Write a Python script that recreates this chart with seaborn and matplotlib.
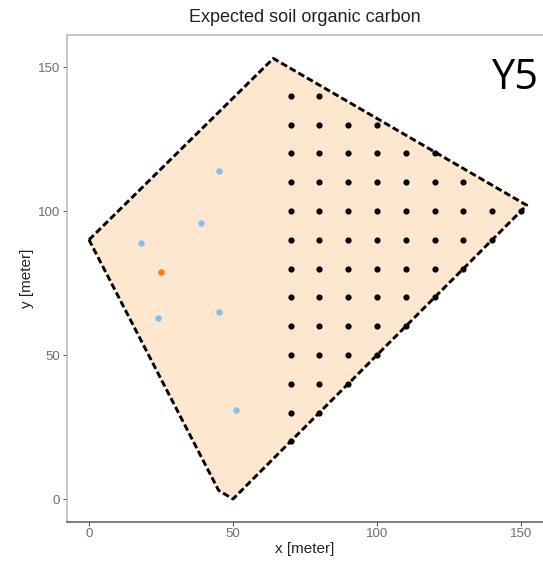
import numpy as np
import pandas as pd
import seaborn as sns
import matplotlib.pyplot as plt

# study area boundary (meter)
border_x = [0, 64, 152, 50, 45, 0]
border_y = [90, 153, 102, 0, 3, 90]

# prediction grid points
grid_x = [70]*13 + [80]*12 + [90]*10 + [100]*9 + [110]*7 + [120]*6 + [130]*4 + [140]*2 + [150]
grid_y = ([20, 30, 40, 50, 60, 70, 80, 90, 100, 110, 120, 130, 140] +
          [30, 40, 50, 60, 70, 80, 90, 100, 110, 120, 130, 140] +
          [40, 50, 60, 70, 80, 90, 100, 110, 120, 130] +
          [50, 60, 70, 80, 90, 100, 110, 120, 130] +
          [60, 70, 80, 90, 100, 110, 120] +
          [70, 80, 90, 100, 110, 120] +
          [80, 90, 100, 110] +
          [90, 100] +
          [100])

# sampled locations
samp_x = [45, 39, 18, 24, 45, 51]
samp_y = [114, 96, 89, 63, 65, 31]

# target location
targ_x = [25]
targ_y = [79]

grid = pd.DataFrame({'x': grid_x, 'y': grid_y})
samp = pd.DataFrame({'x': samp_x, 'y': samp_y})
targ = pd.DataFrame({'x': targ_x, 'y': targ_y})

sns.set_theme(style='white')
plt.rcParams['font.family'] = ['Liberation Sans', 'DejaVu Sans']

fig = plt.figure(figsize=(5.43, 5.68), dpi=100)
ax = fig.add_axes([67/543, (568-521.5)/568, 1 - 67/543, (521.5-34.5)/568])

ax.fill(border_x, border_y, color='#FDE7CF', zorder=1)
ax.plot(border_x, border_y, color='black', lw=2.1, dashes=(2.3, 1.1), zorder=3)

sns.scatterplot(data=grid, x='x', y='y', color='black', s=20, linewidth=0, ax=ax, zorder=4)
sns.scatterplot(data=samp, x='x', y='y', color='#87BFEA', s=22, linewidth=0, ax=ax, zorder=4)
sns.scatterplot(data=targ, x='x', y='y', color='#F97B12', s=22, linewidth=0, ax=ax, zorder=4)

ax.set_xlim(-7.64, 157.64)
ax.set_ylim(-7.81, 161.3)
ax.set_xticks([0, 50, 100, 150])
ax.set_yticks([0, 50, 100, 150])

ax.set_xlabel('x [meter]', fontsize=11, color='#222222', labelpad=1)
ax.set_ylabel('y [meter]', fontsize=11, color='#222222', labelpad=3)
ax.set_title('Expected soil organic carbon', fontsize=13, color='#222222', pad=9)

ax.tick_params(axis='both', which='both', length=3, width=0.8, color='#555555',
               labelsize=9.5, labelcolor='#6E6E6E', pad=2, bottom=True, left=True)

for side in ['top', 'left']:
    ax.spines[side].set_color('#BBBBBB')
    ax.spines[side].set_linewidth(1.2)
ax.spines['right'].set_visible(False)
ax.spines['bottom'].set_color('#666666')
ax.spines['bottom'].set_linewidth(1.2)

ax.text(0.99, 0.91, 'Y5', transform=ax.transAxes, ha='right', va='center',
        fontsize=30, family=['Open Sans', 'DejaVu Sans'], color='black')

fig.savefig('out.png', dpi=100)
